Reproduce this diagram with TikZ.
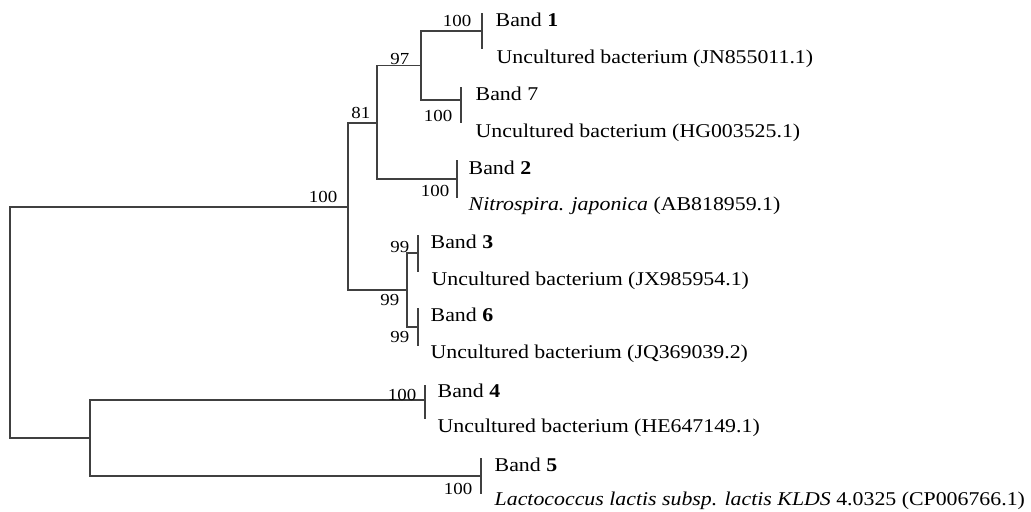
\documentclass[tikz,border=0pt]{standalone}
\usepackage{fontspec}
\setmainfont{Liberation Serif}[FakeStretch=1.12]
\begin{document}
\begin{tikzpicture}[x=0.02cm,y=-0.02cm,line width=0.8pt,
    branch/.style={draw=black!75},
    taxon/.style={anchor=base west,inner sep=0pt,font=\fontsize{11.1}{13}\selectfont},
    boot/.style={anchor=base east,inner sep=0pt,font=\fontsize{9.6}{11}\selectfont}]
    \useasboundingbox (0,0) rectangle (1031,511);
    \path
    (10,322) coordinate (R)
    (348,207) coordinate (N100)
    (377,123) coordinate (N81)
    (421,65.5) coordinate (N97)
    (407,290) coordinate (N99)
    (90,438) coordinate (NL)
    (482,31) coordinate (T1)
    (461,100) coordinate (T7)
    (457,179) coordinate (T2)
    (418,253) coordinate (T3)
    (418,327) coordinate (T6)
    (425,400) coordinate (T4)
    (481,476) coordinate (T5)
    ;
    \draw[branch] (R) |- (N100) (R) |- (NL)
    (N100) |- (N81) (N100) |- (N99)
    (N81) |- (N97) (N81) |- (T2)
    (N97) |- (T1) (N97) |- (T7)
    (N99) |- (T3) (N99) |- (T6)
    (NL) |- (T4) (NL) |- (T5);
    \foreach \t/\u/\d in {T1/18/18,T7/13/23,T2/19/19,T3/18/19,T6/19/19,T4/15/19,T5/18/18}
        \draw[branch] (\t) ++(0,-\u) -- ++(0,\u+\d);
    \node[taxon] (b1) at (495,26) {Band \textbf{1}};
    \node[taxon] (s1) at (496,63) {Uncultured bacterium (JN855011.1)};
    \node[taxon] (b7) at (475,100) {Band 7};
    \node[taxon] (s7) at (475,137) {Uncultured bacterium (HG003525.1)};
    \node[taxon] (b2) at (468,174) {Band \textbf{2}};
    \node[taxon] (s2) at (468,210) {\textit{Nitrospira. japonica} (AB818959.1)};
    \node[taxon] (b3) at (430,248) {Band \textbf{3}};
    \node[taxon] (s3) at (431,285) {Uncultured bacterium (JX985954.1)};
    \node[taxon] (b6) at (430,321) {Band \textbf{6}};
    \node[taxon] (s6) at (430,358) {Uncultured bacterium (JQ369039.2)};
    \node[taxon] (b4) at (437,397) {Band \textbf{4}};
    \node[taxon] (s4) at (437,432) {Uncultured bacterium (HE647149.1)};
    \node[taxon] (b5) at (494,471) {Band \textbf{5}};
    \node[taxon] (s5) at (494,505) {\textit{Lactococcus lactis subsp. lactis KLDS} 4.0325 (CP006766.1)};
    \foreach \n/\x/\y/\v in {v1/472/26/100,v97/410/64/97,v81/371/118/81,v7/453/121/100,
        v2/450/196/100,v100/338/202/100,v3/410/252/99,v99/400/305/99,v6/410/342/99,
        v4/417/400/100,v5/473/494/100}
        \node[boot] (\n) at (\x,\y) {\v};
\end{tikzpicture}
\end{document}
